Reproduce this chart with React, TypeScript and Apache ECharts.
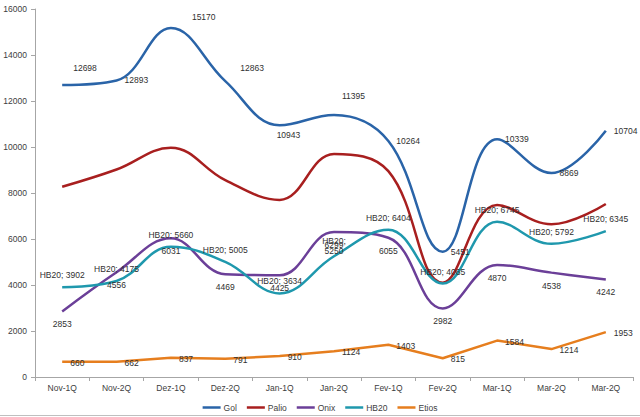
import React, { useEffect, useRef } from "react";
import * as echarts from "echarts";

const categories = ["Nov-1Q", "Nov-2Q", "Dez-1Q", "Dez-2Q", "Jan-1Q", "Jan-2Q", "Fev-1Q", "Fev-2Q", "Mar-1Q", "Mar-2Q", "Mar-2Q"];
const gol = [12698, 12893, 15170, 12863, 10943, 11395, 10264, 5451, 10339, 8869, 10704];
const palio = [8270, 9020, 9970, 8560, 7700, 9700, 8950, 4100, 7480, 6640, 7520];
const onix = [2853, 4556, 6031, 4469, 4425, 6299, 6055, 2982, 4870, 4538, 4242];
const hb20 = [3902, 4175, 5660, 5005, 3634, 5250, 6404, 4065, 6745, 5792, 6345];
const etios = [660, 662, 837, 791, 910, 1124, 1403, 815, 1584, 1214, 1953];
const seriesNames = ["Gol", "Palio", "Onix", "HB20", "Etios"];
const yTicks = { min: 0, max: 16000, interval: 2000 };

// label offset tweaks (style only)
const golLabelOffsets: Record<number, [number, number]> = {
  0: [3, -17],
  2: [13, -11],
  3: [7, -13],
  4: [-11, 10],
  5: [0, -19],
};

const COLORS: Record<string, string> = {
  Gol: "#2a64a8",
  Palio: "#a81f1f",
  Onix: "#6b3f98",
  HB20: "#1f98ad",
  Etios: "#e67e1e",
};

const FONT = "Liberation Sans, Arial, sans-serif";
const LABEL_COLOR = "#303030";
const SMOOTH = 0.4;

export default function App() {
  const ref = useRef<HTMLDivElement>(null);
  useEffect(() => {
    if (!ref.current) return;
    const chart = echarts.init(ref.current, undefined, { renderer: "svg" });
    const baseLabel = {
      show: true,
      fontSize: 8.5,
      fontFamily: FONT,
      color: LABEL_COLOR,
      lineHeight: 10,
    };
    const mkSeries = (name: string, data: any[], smooth: boolean, label: any) => ({
      name,
      type: "line",
      data,
      smooth: smooth ? SMOOTH : false,
      symbol: "circle",
      symbolSize: 2,
      showSymbol: true,
      itemStyle: { color: "rgba(0,0,0,0)", borderWidth: 0 },
      lineStyle: { color: COLORS[name], width: 2.5, opacity: 1 },
      label,
      emphasis: { disabled: true },
    });
    const golData = gol.map((v, i) =>
      golLabelOffsets[i] ? { value: v, label: { offset: golLabelOffsets[i] } } : v
    );
    const hbData = hb20.map((v, i) =>
      i === 5 ? { value: v, label: { formatter: "HB20;\n" + v, offset: [0, 6.5] } } : v
    );
    chart.setOption({
      animation: false,
      backgroundColor: "#ffffff",
      textStyle: { fontFamily: FONT },
      grid: { left: 35, right: 7, top: 9, bottom: 40, containLabel: false },
      xAxis: {
        type: "category",
        data: categories,
        boundaryGap: true,
        axisLine: { lineStyle: { color: "#a6a6a6", width: 1 } },
        axisTick: { show: true, length: 4, lineStyle: { color: "#a6a6a6" }, alignWithLabel: false },
        axisLabel: { fontSize: 8.5, color: "#404040", margin: 6, fontFamily: FONT, interval: 0, formatter: (v: string) => v },
        splitLine: { show: false },
      },
      yAxis: {
        type: "value",
        min: yTicks.min,
        max: yTicks.max,
        interval: yTicks.interval,
        axisLine: { show: true, lineStyle: { color: "#a6a6a6", width: 1 } },
        axisTick: { show: true, length: 4, lineStyle: { color: "#a6a6a6" } },
        axisLabel: { fontSize: 8.5, color: "#404040", margin: 8, fontFamily: FONT, formatter: (v: number) => String(v) },
        splitLine: { show: false },
      },
      legend: {
        bottom: 0,
        left: "center",
        icon: "rect",
        itemWidth: 18,
        itemHeight: 2.5,
        itemGap: 10,
        textStyle: { fontSize: 8.5, color: "#404040", fontFamily: FONT, padding: [0, 0, 0, -2] },
        data: seriesNames.map((n) => ({ name: n, itemStyle: { color: COLORS[n], opacity: 1, borderWidth: 0 } })),
      },
      graphic: [
        { type: "line", shape: { x1: 0, y1: 415.5, x2: 640, y2: 415.5 }, style: { stroke: "#bfbfbf", lineWidth: 1 }, silent: true },
      ],
      series: [
        mkSeries("Gol", golData, true, {
          ...baseLabel,
          position: "right",
          distance: 7,
          formatter: (p: any) => String(p.value),
        }),
        mkSeries("Palio", palio, true, { show: false }),
        mkSeries("Onix", onix, true, {
          ...baseLabel,
          position: "bottom",
          distance: 7,
          formatter: (p: any) => String(p.value),
        }),
        mkSeries("HB20", hbData, true, {
          ...baseLabel,
          position: "top",
          distance: 6,
          formatter: (p: any) => "HB20; " + p.value,
        }),
        mkSeries("Etios", etios, false, {
          ...baseLabel,
          position: "right",
          distance: 7,
          offset: [0, 1],
          formatter: (p: any) => String(p.value),
        }),
      ],
    });
    return () => chart.dispose();
  }, []);
  return (
    <div
      ref={ref}
      style={{ position: "fixed", left: 0, top: 0, width: 640, height: 417, background: "#fff" }}
    />
  );
}
